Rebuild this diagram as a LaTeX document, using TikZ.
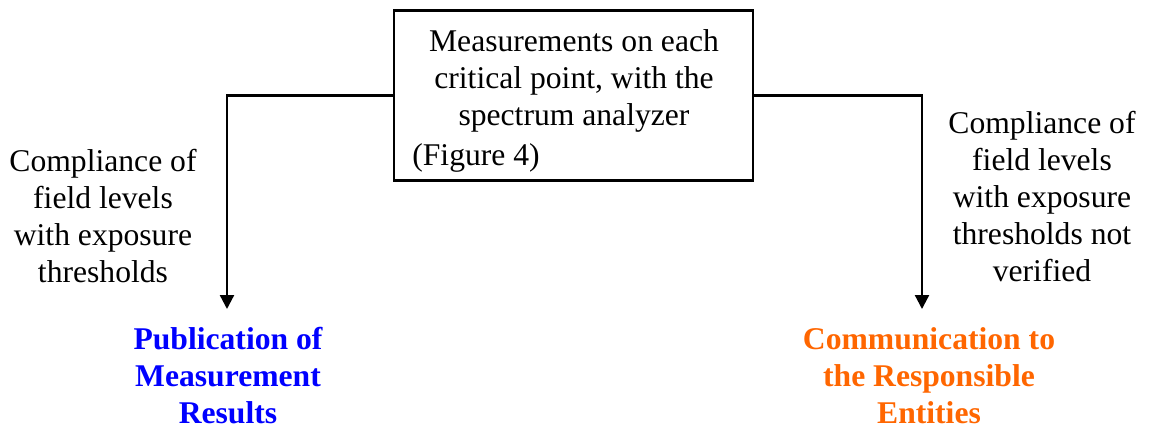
\documentclass[tikz,border=0pt]{standalone}
\usepackage{fontspec}
\setmainfont{Liberation Serif}
\usetikzlibrary{arrows.meta}
\definecolor{pubblue}{RGB}{0,0,255}
\definecolor{comorange}{RGB}{255,102,0}
\begin{document}
\begin{tikzpicture}[x=0.02cm,y=-0.02cm,
  txt/.style={font=\fontsize{18}{21}\selectfont, align=center, inner sep=0pt},
  btxt/.style={txt, font=\fontsize{18}{21}\selectfont\bfseries},
  box/.style={draw, line width=1.3pt, minimum width=7.18cm, minimum height=3.4cm, inner sep=0pt},
  arr/.style={line width=1.3pt, -{Triangle[length=0.28cm,width=0.28cm]}}]
\useasboundingbox (0,0) rectangle (1149,430);
\node[box] (meas) at (573.5,95.5) {};
\node[txt, anchor=base] (mtext) at (574,125) {Measurements on each\\critical point, with the\\spectrum analyzer};
\node[txt, anchor=base west] (fig) at (412,165) {(Figure 4)};
\coordinate (ltip) at (227,309);
\coordinate (rtip) at (922,309);
\draw[arr] (meas.west) -| (ltip);
\draw[arr] (meas.east) -| (rtip);
\node[txt, anchor=base] (lcond) at (103,282) {Compliance of\\field levels\\with exposure\\thresholds};
\node[txt, anchor=base] (rcond) at (1042,281) {Compliance of\\field levels\\with exposure\\thresholds not\\verified};
\node[btxt, text=pubblue, anchor=base] (pub) at (228,423) {Publication of\\Measurement\\Results};
\node[btxt, text=comorange, anchor=base] (com) at (929,423) {Communication to\\the Responsible\\Entities};
\end{tikzpicture}
\end{document}
